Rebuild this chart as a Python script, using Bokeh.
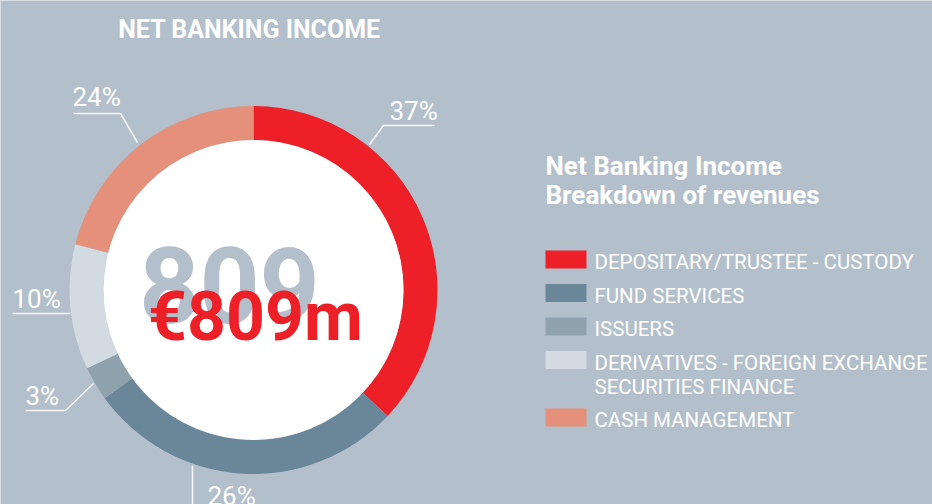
import math
from bokeh.plotting import figure
from bokeh.models import Range1d
from bokeh.core.properties import value
from bokeh.embed import file_html
from bokeh.resources import INLINE

# ---------------- data ----------------
title = "NET BANKING INCOME"
legend_title = ["Net Banking Income", "Breakdown of revenues"]
categories = [
    "DEPOSITARY/TRUSTEE - CUSTODY",
    "FUND SERVICES",
    "ISSUERS",
    "DERIVATIVES - FOREIGN EXCHANGE\nSECURITIES FINANCE",
    "CASH MANAGEMENT",
]
shares = [37, 28, 3, 11, 21]          # arc shares as drawn (%)
pct_labels = ["37%", "26%", "3%", "10%", "24%"]
total_label = "€809m"
ghost_label = "809"
colors = ["#ED1F27", "#6A8799", "#8FA2AE", "#D3DBE2", "#E5907A"]

# ---------------- layout (page pixel coords) ----------------
BG = "#B3BFCB"
W, H = 932, 504
cx, cy = 253, 289.5
r_in, r_out = 150, 184
FONT = value("Roboto")

def Y(py):
    return H - py

def TY(py, size):
    # baseline correction for the text renderer
    return H - (py - 0.3 * size)

# label anchors: (x_left, baseline_y)
label_pos = [(389, 118), (207, 503), (25, 403), (12, 306), (72, 104)]
leaders = [
    [(434, 125), (383, 125), (369, 144)],
    [(192, 465), (192, 504)],
    [(25, 410), (65, 410), (93, 383)],
    [(12, 313), (70, 313)],
    [(73, 113), (120, 113), (137, 142)],
]

p = figure(width=W, height=H, output_backend="svg", toolbar_location=None,
           x_range=Range1d(0, W), y_range=Range1d(0, H),
           min_border=0, background_fill_color=BG, border_fill_color=BG,
           outline_line_color=None)
p.axis.visible = False
p.grid.visible = False

# donut
cum = 0.0
starts, ends = [], []
for s in shares:
    a0 = math.pi / 2 - 2 * math.pi * cum / 100
    cum += s
    a1 = math.pi / 2 - 2 * math.pi * cum / 100
    starts.append(a1)
    ends.append(a0)
p.annular_wedge(x=[cx] * len(shares), y=[Y(cy)] * len(shares),
                inner_radius=r_in, outer_radius=r_out,
                start_angle=starts, end_angle=ends,
                fill_color=colors, line_color=None)
p.circle(x=[cx], y=[Y(cy)], radius=r_in, fill_color="white", line_color=None)

# leader lines
p.multi_line(xs=[[pt[0] for pt in l] for l in leaders],
             ys=[[Y(pt[1]) for pt in l] for l in leaders],
             line_color="white", line_alpha=0.85, line_width=1.6)

# percent labels
ps = 26
p.text(x=[lp[0] for lp in label_pos], y=[TY(lp[1], ps) for lp in label_pos],
       text=pct_labels, text_color="white", text_font=FONT,
       text_font_size="%dpx" % ps, text_align="left", text_baseline="alphabetic")

# centre texts
p.text(x=[229], y=[TY(316, 105)], text=[ghost_label], text_color=BG,
       text_font=FONT, text_font_style="bold",
       text_font_size="105px", text_align="center", text_baseline="alphabetic")
p.text(x=[255], y=[TY(337, 68)], text=[total_label], text_color="#ED1F27",
       text_font=FONT, text_font_style="bold",
       text_font_size="68px", text_align="center", text_baseline="alphabetic")

# title
p.text(x=[249], y=[TY(36, 25)], text=[title], text_color="white",
       text_font=FONT, text_font_style="bold",
       text_font_size="25px", text_align="center", text_baseline="alphabetic")

# legend title
lts = 26
p.text(x=[545, 545], y=[TY(173, lts), TY(202, lts)], text=legend_title,
       text_color="white", text_font=FONT, text_font_style="bold",
       text_font_size="%dpx" % lts, text_align="left", text_baseline="alphabetic")

# legend entries
sw_x, sw_w, sw_h = 545, 41, 18
line_h, gap = 24, 9.5
top = 250
its = 20.5
rx, ry, tx, ty, tt = [], [], [], [], []
for cat, col in zip(categories, colors):
    lines = cat.split("\n")
    rx.append(sw_x + sw_w / 2)
    ry.append(Y(top + sw_h / 2))
    for i, ln in enumerate(lines):
        tx.append(594)
        ty.append(TY(top + sw_h + i * line_h, its))
        tt.append(ln)
    top += len(lines) * line_h + gap
p.rect(x=rx, y=ry, width=sw_w, height=sw_h, fill_color=colors, line_color=None)
p.text(x=tx, y=ty, text=tt, text_color="white", text_font=FONT,
       text_font_size="%.1fpx" % its, text_align="left", text_baseline="alphabetic")

html = file_html(p, INLINE)
open("out.html", "w").write(html)
